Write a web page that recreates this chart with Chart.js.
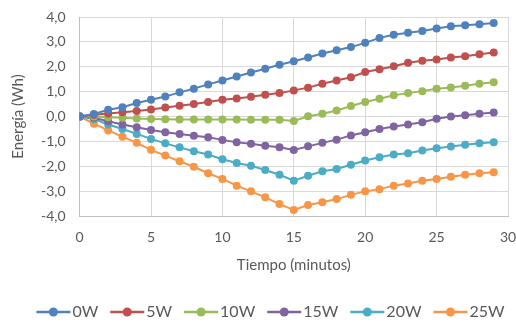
<!DOCTYPE html>
<html>
<head>
<meta charset="utf-8">
<script src="https://cdn.jsdelivr.net/npm/chart.js@4"></script>
<style>
  html, body { margin: 0; padding: 0; background: #fff; }
  #wrap { width: 516px; height: 324px; position: relative; }
</style>
</head>
<body>
<div id="wrap"><canvas id="chart"></canvas></div>
<script>
// minutes 0..29
const minutos = Array.from({length: 30}, (_, i) => i);
const seriesNames = ['0W', '5W', '10W', '15W', '20W', '25W'];
const colors = ['#4F81BD', '#C0504D', '#9BBB59', '#8064A2', '#4BACC6', '#F79646'];

const w0  = [0, 0.1, 0.27, 0.37, 0.54, 0.67, 0.8, 0.97, 1.12, 1.29, 1.45, 1.61, 1.77, 1.92, 2.08, 2.22, 2.37, 2.53, 2.66, 2.79, 2.96, 3.16, 3.29, 3.37, 3.44, 3.54, 3.63, 3.67, 3.71, 3.76];
const w5  = [0, 0.07, 0.12, 0.17, 0.22, 0.28, 0.36, 0.43, 0.5, 0.58, 0.67, 0.72, 0.79, 0.87, 0.94, 1.05, 1.16, 1.32, 1.45, 1.58, 1.79, 1.9, 2.02, 2.16, 2.24, 2.29, 2.37, 2.42, 2.5, 2.57];
const w10 = [0, 0.0, -0.03, -0.05, -0.08, -0.1, -0.11, -0.12, -0.12, -0.12, -0.12, -0.12, -0.13, -0.13, -0.13, -0.18, 0.01, 0.11, 0.24, 0.42, 0.58, 0.71, 0.85, 0.94, 1.02, 1.12, 1.17, 1.24, 1.32, 1.38];
const w15 = [0, -0.05, -0.19, -0.32, -0.43, -0.54, -0.63, -0.7, -0.77, -0.83, -0.94, -1.04, -1.1, -1.18, -1.24, -1.35, -1.2, -1.06, -0.93, -0.76, -0.63, -0.5, -0.4, -0.32, -0.23, -0.09, 0.0, 0.05, 0.11, 0.16];
const w20 = [0, -0.1, -0.32, -0.5, -0.7, -0.9, -1.08, -1.24, -1.4, -1.53, -1.72, -1.87, -1.98, -2.15, -2.34, -2.58, -2.38, -2.2, -2.11, -1.94, -1.77, -1.64, -1.53, -1.48, -1.37, -1.28, -1.21, -1.14, -1.08, -1.04];
const w25 = [0, -0.29, -0.56, -0.81, -1.06, -1.34, -1.57, -1.8, -2.02, -2.28, -2.51, -2.78, -3.01, -3.25, -3.52, -3.76, -3.56, -3.45, -3.32, -3.15, -3.01, -2.92, -2.78, -2.69, -2.58, -2.51, -2.42, -2.34, -2.28, -2.24];

const allSeries = [w0, w5, w10, w15, w20, w25];

const FONT = 'Lato, "Open Sans", sans-serif';
const TXT = '#595959';
const LEG_SHIFT = 12; // legend row sits a bit right of centre in the original

// legend: Excel style line + dot marker, drawn over the (invisible) legend boxes
const legendMarks = {
  id: 'legendMarks',
  beforeLayout(chart) {
    const lg = chart.legend;
    if (lg && !lg._patched) {
      const fit = lg.fit.bind(lg);
      lg.fit = function () { fit(); this.height -= 6; };
      const draw = lg.draw.bind(lg);
      lg.draw = function (area) {
        const ctx = chart.ctx;
        ctx.save();
        ctx.translate(LEG_SHIFT, 0);
        draw(area);
        ctx.restore();
      };
      lg._patched = true;
    }
  },
  afterDraw(chart) {
    const lg = chart.legend;
    if (!lg || !lg.legendHitBoxes) return;
    const ctx = chart.ctx;
    lg.legendHitBoxes.forEach((hb, i) => {
      const x0 = hb.left + LEG_SHIFT;
      const cy = hb.top + hb.height / 2;
      ctx.save();
      ctx.strokeStyle = colors[i];
      ctx.lineWidth = 2.5;
      ctx.beginPath();
      ctx.moveTo(x0, cy);
      ctx.lineTo(x0 + 34, cy);
      ctx.stroke();
      ctx.fillStyle = colors[i];
      ctx.beginPath();
      ctx.arc(x0 + 17, cy, 4.5, 0, Math.PI * 2);
      ctx.fill();
      ctx.restore();
    });
  }
};

const datasets = allSeries.map((vals, i) => ({
  label: seriesNames[i],
  data: vals.map((v, j) => ({x: minutos[j], y: v})),
  borderColor: colors[i],
  backgroundColor: colors[i],
  pointBackgroundColor: colors[i],
  pointBorderColor: colors[i],
  pointRadius: 4,
  pointBorderWidth: 0,
  borderWidth: 2,
  tension: 0
}));

new Chart(document.getElementById('chart'), {
  type: 'line',
  data: { datasets },
  plugins: [legendMarks],
  options: {
    responsive: true,
    maintainAspectRatio: false,
    animation: false,
    layout: { padding: { left: 9, right: 8, top: 17, bottom: 0 } },
    plugins: {
      tooltip: { enabled: false },
      legend: {
        position: 'bottom',
        labels: {
          boxWidth: 28,
          boxHeight: 2,
          padding: 12,
          color: TXT,
          font: { family: FONT, size: 16 },
          generateLabels: chart => chart.data.datasets.map((ds, i) => ({
            text: ds.label,
            fillStyle: 'rgba(0,0,0,0)',
            strokeStyle: 'rgba(0,0,0,0)',
            lineWidth: 0,
            fontColor: TXT,
            hidden: false,
            datasetIndex: i
          }))
        }
      }
    },
    scales: {
      x: {
        type: 'linear',
        min: 0, max: 30,
        afterFit: s => { s.paddingRight = 0; s.paddingLeft = 0; },
        ticks: { stepSize: 5, color: TXT, font: { family: FONT, size: 14, lineHeight: 1 }, padding: 14 },
        grid: { color: '#D9D9D9', tickLength: 0 },
        border: { color: '#BFBFBF' },
        title: { display: true, text: 'Tiempo (minutos)', color: TXT, font: { family: FONT, size: 15, lineHeight: 1 }, padding: { top: 0, bottom: 19 } }
      },
      y: {
        min: -4, max: 4,
        afterFit: s => { s.paddingTop = 0; s.paddingBottom = 0; },
        ticks: {
          stepSize: 1, color: TXT, font: { family: FONT, size: 14 }, padding: 14,
          callback: v => v.toFixed(1).replace('.', ',')
        },
        grid: { color: '#D9D9D9', tickLength: 0 },
        border: { color: '#BFBFBF' },
        title: { display: true, text: 'Energía (Wh)', color: TXT, font: { family: FONT, size: 15 }, padding: { top: 0, bottom: 0 } }
      }
    }
  }
});
</script>
</body>
</html>
